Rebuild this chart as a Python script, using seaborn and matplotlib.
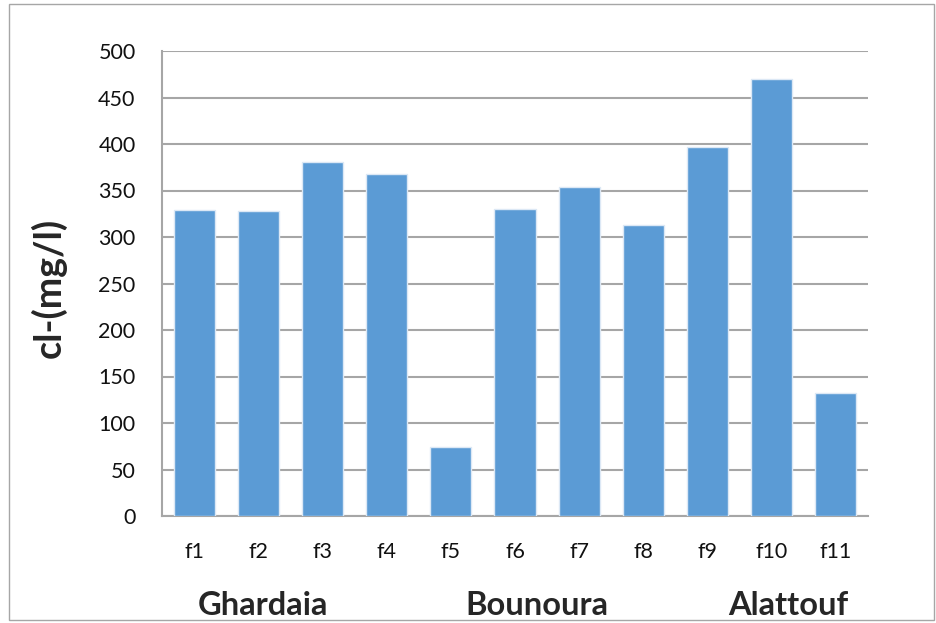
import matplotlib
matplotlib.use('Agg')
import matplotlib.pyplot as plt
import matplotlib.patches as patches
import pandas as pd
import seaborn as sns

wells = ['f1', 'f2', 'f3', 'f4', 'f5', 'f6', 'f7', 'f8', 'f9', 'f10', 'f11']
chloride = [329, 328, 381, 368, 74, 330, 354, 313, 397, 470, 132]
groups = ['Ghardaia', 'Bounoura', 'Alattouf']
yticks = [0, 50, 100, 150, 200, 250, 300, 350, 400, 450, 500]

df = pd.DataFrame({'well': wells, 'cl': chloride})

sns.set_style('white')
plt.rcParams['font.family'] = ['Lato', 'DejaVu Sans']

fig = plt.figure(figsize=(9.36, 6.23), dpi=100)
ax = fig.add_axes([162/936, 1-516/623, (868-162)/936, (516-51)/623])

sns.barplot(data=df, x='well', y='cl', color='#5B9BD5', saturation=1,
            width=0.64, edgecolor='#DCE8F5', linewidth=1, ax=ax, zorder=3)

ax.set_ylim(0, 500)
ax.set_xlim(-0.5, len(wells) - 0.5)
ax.set_yticks(yticks)
ax.yaxis.grid(True, color='#A6A6A6', linewidth=1.5, zorder=0)
ax.set_axisbelow(True)
for s in ['top', 'right']:
    ax.spines[s].set_visible(False)
for s in ['left', 'bottom']:
    ax.spines[s].set_color('#A6A6A6')
    ax.spines[s].set_linewidth(1.5)
ax.tick_params(axis='both', length=0, labelsize=15.5, colors='#111111')
ax.tick_params(axis='x', pad=19)
ax.tick_params(axis='y', pad=19)
ax.set_xlabel('')
ax.set_ylabel('cl-(mg/l)', fontsize=27, fontweight='bold')
ax.yaxis.set_label_coords(-0.135, 0.49)

# site names below the well labels
for name, xc in zip(groups, [1.08, 5.34, 9.25]):
    ax.text(xc, -0.193, name, transform=ax.get_xaxis_transform(),
            ha='center', va='center', fontsize=23.5, fontweight='bold')

fig.patches.append(patches.Rectangle((9/936, 3/623), 925/936, 616/623,
                                     transform=fig.transFigure, fill=False,
                                     edgecolor='#A6A6A6', linewidth=1))

fig.savefig('out.png', dpi=100)
